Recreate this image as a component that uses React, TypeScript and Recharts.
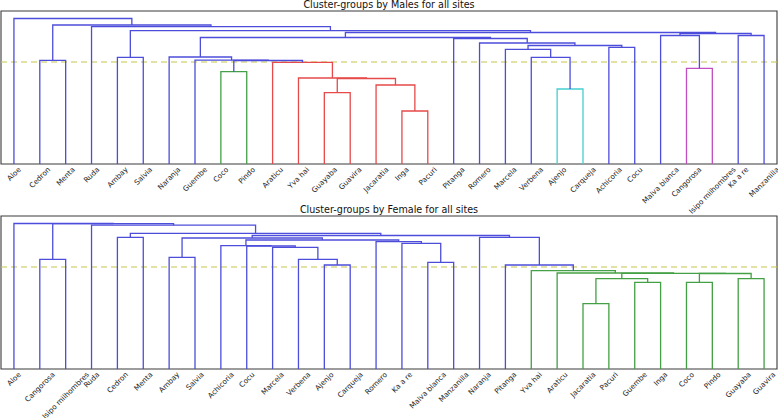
import React from 'react'
import {
  ComposedChart,
  Line,
  XAxis,
  YAxis,
  ReferenceLine,
  ReferenceArea,
} from 'recharts'

// leaf order as drawn, left to right
const maleLeaves = [
  'Aloe', 'Cedron', 'Menta', 'Ruda', 'Ambay', 'Salvia', 'Naranja', 'Guembe',
  'Coco', 'Pindo', 'Araticu', 'Yva hai', 'Guayaba', 'Guavira', 'Jacaratia',
  'Inga', 'Pacuri', 'Pitanga', 'Romero', 'Marcela', 'Verbena', 'Ajenjo',
  'Carqueja', 'Achicoria', 'Cocu', 'Malva blanca', 'Cangorosa',
  'Isipo milhombres', 'Ka a re', 'Manzanilla',
]

const femaleLeaves = [
  'Aloe', 'Cangorosa', 'Isipo milhombres', 'Ruda', 'Cedron', 'Menta', 'Ambay',
  'Salvia', 'Achicoria', 'Cocu', 'Marcela', 'Verbena', 'Ajenjo', 'Carqueja',
  'Romero', 'Ka a re', 'Malva blanca', 'Manzanilla', 'Naranja', 'Pitanga',
  'Yva hai', 'Araticu', 'Jacaratia', 'Pacuri', 'Guembe', 'Inga', 'Coco',
  'Pindo', 'Guayaba', 'Guavira',
]

// linkage rows [left, right, distance]; ids < 30 are leaves, 30 + k is row k
const maleLinkage: [number, number, number][] = [
  [15, 16, 5.3],
  [14, 30, 7.9],
  [12, 13, 7.13],
  [32, 31, 8.55],
  [11, 33, 8.6],
  [10, 34, 10.17],
  [8, 9, 9.23],
  [36, 35, 10.35],
  [7, 37, 10.38],
  [6, 38, 10.7],
  [21, 22, 7.5],
  [20, 40, 10.67],
  [19, 41, 11.47],
  [23, 24, 11.67],
  [42, 43, 11.85],
  [18, 44, 12.1],
  [17, 45, 12.55],
  [39, 46, 12.65],
  [26, 27, 9.57],
  [25, 48, 12.85],
  [28, 29, 12.85],
  [49, 50, 13.05],
  [47, 51, 13.15],
  [4, 5, 10.67],
  [53, 52, 13.33],
  [3, 54, 13.73],
  [1, 2, 10.37],
  [56, 55, 13.9],
  [0, 57, 14.55],
]

const femaleLinkage: [number, number, number][] = [
  [12, 13, 10.4],
  [11, 30, 10.97],
  [10, 31, 12.17],
  [9, 32, 12.3],
  [8, 33, 12.33],
  [16, 17, 10.67],
  [15, 35, 12.57],
  [14, 36, 12.73],
  [34, 37, 12.9],
  [6, 7, 11.17],
  [39, 38, 13.1],
  [28, 29, 9.03],
  [26, 27, 8.67],
  [42, 41, 9.55],
  [22, 23, 6.53],
  [24, 25, 8.67],
  [44, 45, 9.03],
  [46, 43, 9.57],
  [21, 47, 9.6],
  [20, 48, 9.83],
  [19, 49, 10.4],
  [18, 50, 13.17],
  [40, 51, 13.35],
  [4, 5, 13.17],
  [53, 52, 13.57],
  [3, 54, 14.38],
  [1, 2, 10.97],
  [56, 55, 14.53],
  [0, 57, 14.55],
]

const THRESHOLD = 10.2
const Y_MAX = 15.3
const ABOVE = '#4d4ddb'
const PALETTE = ['#44a044', '#e64a4a', '#45cfcf', '#c250c2']

const W = 778
const FONT = 'DejaVu Sans'
const LABEL_SIZE = 7.3

let ctx: CanvasRenderingContext2D | null = null
function textWidth(s: string, size: number) {
  if (!ctx) ctx = document.createElement('canvas').getContext('2d')
  if (!ctx) return s.length * size * 0.55
  ctx.font = `${size}px "${FONT}"`
  return ctx.measureText(s).width
}

// scipy-like layout: leaves at 5, 15, 25 ... and U shaped links
function layout(linkage: [number, number, number][], n: number) {
  const xs = Array.from({ length: n }, (_, i) => 10 * i + 5)
  const hs: number[] = Array(n).fill(0)
  linkage.forEach(([a, b, h]) => {
    xs.push((xs[a] + xs[b]) / 2)
    hs.push(h)
  })
  const colors: string[] = []
  let next = 0
  const paint = (id: number, color?: string) => {
    if (id < n) return
    const [a, b, h] = linkage[id - n]
    let c = color
    if (!c && h < THRESHOLD) c = PALETTE[next++ % PALETTE.length]
    colors[id - n] = c ?? ABOVE
    paint(a, c)
    paint(b, c)
  }
  paint(n + linkage.length - 1)
  return linkage.map(([a, b, h], k) => ({
    key: k,
    color: colors[k],
    pts: [
      { x: xs[a], h: hs[a] },
      { x: xs[a], h },
      { x: xs[b], h },
      { x: xs[b], h: hs[b] },
    ],
  }))
}

const LeafTick = (props: any) => {
  const { x, y, payload, labels } = props
  const name = labels[Math.round((payload.value - 5) / 10)] ?? ''
  const fs = LABEL_SIZE
  const side = (textWidth(name, fs) + fs * 0.5) * 0.7071
  const cy = y + side / 2
  return (
    <text
      x={x}
      y={cy}
      transform={`rotate(-45 ${x} ${cy})`}
      textAnchor="middle"
      dominantBaseline="central"
      fontSize={fs}
      fontFamily={FONT}
      fill="#1a1a1a"
    >
      {name}
    </text>
  )
}

function Dendrogram({
  title,
  leaves,
  linkage,
  top,
  height,
}: {
  title: string
  leaves: string[]
  linkage: [number, number, number][]
  top: number
  height: number
}) {
  const links = layout(linkage, leaves.length)
  const ticks = leaves.map((_, i) => 10 * i + 5)
  return (
    <div style={{ position: 'absolute', left: 0, top, width: W, height }}>
      <ComposedChart
        width={W}
        height={height}
        margin={{ top: 11, right: 1, bottom: 0, left: 1 }}
      >
        <XAxis
          type="number"
          dataKey="x"
          domain={[0, 300]}
          ticks={ticks}
          interval={0}
          allowDataOverflow
          tickLine={false}
          axisLine={false}
          tickSize={0}
          tickMargin={3}
          height={height - 164}
          tick={(p: any) => <LeafTick {...p} labels={leaves} />}
        />
        <YAxis type="number" domain={[0, Y_MAX]} hide allowDataOverflow />
        <ReferenceArea
          x1={0}
          x2={300}
          y1={0}
          y2={Y_MAX}
          fill="none"
          stroke="#3a3a3a"
          strokeWidth={1.1}
          ifOverflow="visible"
        />
        <ReferenceLine
          y={THRESHOLD}
          stroke="#c8c64c"
          strokeWidth={1.2}
          strokeDasharray="6 4"
        />
        {links.map((l) => (
          <Line
            key={l.key}
            data={l.pts}
            dataKey="h"
            type="linear"
            stroke={l.color}
            strokeWidth={1.3}
            dot={false}
            activeDot={false}
            isAnimationActive={false}
          />
        ))}
      </ComposedChart>
      <div
        style={{
          position: 'absolute',
          left: 0,
          top: 0,
          width: W,
          textAlign: 'center',
          fontFamily: FONT,
          fontSize: 9.6,
          lineHeight: '10px',
          color: '#111',
        }}
      >
        {title}
      </div>
    </div>
  )
}

export default function App() {
  return (
    <div
      style={{
        position: 'absolute',
        left: 0,
        top: 0,
        width: W,
        height: 418,
        background: '#fff',
        overflow: 'hidden',
      }}
    >
      <Dendrogram
        title="Cluster-groups by Males for all sites"
        leaves={maleLeaves}
        linkage={maleLinkage}
        top={0}
        height={222}
      />
      <Dendrogram
        title="Cluster-groups by Female for all sites"
        leaves={femaleLeaves}
        linkage={femaleLinkage}
        top={205}
        height={213}
      />
    </div>
  )
}
